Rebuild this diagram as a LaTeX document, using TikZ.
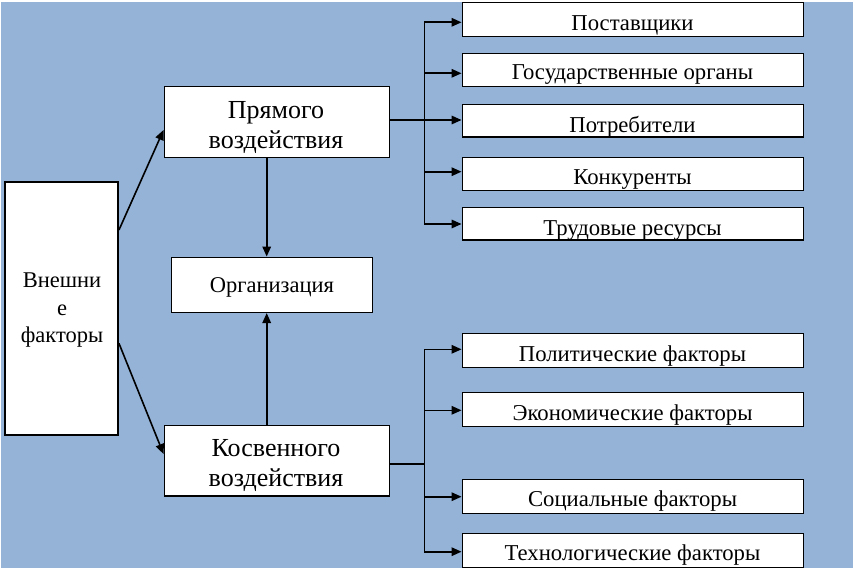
\documentclass[tikz,border=0pt]{standalone}
\usepackage{fontspec}
\setmainfont{Liberation Serif}
\usetikzlibrary{arrows.meta}
\definecolor{bgblue}{HTML}{95B3D7}
\begin{document}
\begin{tikzpicture}[x=1pt,y=-1pt,
  box/.style={draw=black,line width=1.5pt,fill=white,inner sep=0pt,rectangle},
  sm/.style={font=\fontsize{22.7}{26}\selectfont,inner sep=0pt,anchor=base},
  bg/.style={font=\fontsize{26}{30}\selectfont,inner sep=0pt,anchor=base},
  md/.style={font=\fontsize{22.5}{27}\selectfont,inner sep=0pt,anchor=base},
  arr/.style={line width=1.6pt,-{Triangle[length=10pt,width=8.5pt]}},
  ln/.style={line width=1.6pt}]
\useasboundingbox (0,0) rectangle (858,575);
\fill[bgblue] (1,2) rectangle (853,568);

% main boxes
\node[box,minimum width=113pt,minimum height=253pt] (ext) at (61.7,308.6) {};
\node[box,minimum width=225pt,minimum height=71pt] (pr) at (276.8,121.8) {};
\node[box,minimum width=201pt,minimum height=55pt] (org) at (271.8,284.8) {};
\node[box,minimum width=225pt,minimum height=70.7pt] (ks) at (276.8,460.7) {};

% right boxes
\node[box,minimum width=341pt,minimum height=33.6pt] (r1) at (632.8,19.5) {};
\node[box,minimum width=341pt,minimum height=33pt] (r2) at (632.8,69.8) {};
\node[box,minimum width=341pt,minimum height=32.7pt] (r3) at (632.8,120.7) {};
\node[box,minimum width=341pt,minimum height=33pt] (r4) at (632.8,173.8) {};
\node[box,minimum width=341pt,minimum height=32.7pt] (r5) at (632.8,223.7) {};
\node[box,minimum width=341pt,minimum height=34pt] (b1) at (632.8,350.3) {};
\node[box,minimum width=341pt,minimum height=33.6pt] (b2) at (632.8,409.5) {};
\node[box,minimum width=341pt,minimum height=34pt] (b3) at (632.8,496.3) {};
\node[box,minimum width=341pt,minimum height=34pt] (b4) at (632.8,550.3) {};

% texts
\node[md] (ext1) at (62,287.7) {Внешни};
\node[md] (ext2) at (62,315.3) {е};
\node[md] (ext3) at (62,342.7) {факторы};
\node[bg] (pr1) at (276,118.3) {Прямого};
\node[bg] (pr2) at (276,148.3) {воздействия};
\node[md] (orgt) at (272,292.5) {Организация};
\node[bg] (ks1) at (276,456) {Косвенного};
\node[bg] (ks2) at (276,486.7) {воздействия};
\node[sm] (r1t) at (632.5,30.7) {Поставщики};
\node[sm] (r2t) at (632.5,80) {Государственные органы};
\node[sm] (r3t) at (632.5,132.3) {Потребители};
\node[sm] (r4t) at (632.5,184) {Конкуренты};
\node[sm] (r5t) at (632.5,235) {Трудовые ресурсы};
\node[sm] (b1t) at (632.5,361) {Политические факторы};
\node[sm] (b2t) at (632.5,420) {Экономические факторы};
\node[sm] (b3t) at (632.5,506.7) {Социальные факторы};
\node[sm] (b4t) at (632.5,560) {Технологические факторы};

% coordinates
\coordinate (e1) at (118.3,230);
\coordinate (e2) at (118.3,343.3);
\coordinate (p1) at (164.3,130);
\coordinate (k1) at (164.3,454);
\coordinate (ox) at (266.7,0);
\coordinate (t1) at (424.3,22.3);
\coordinate (t2) at (424.3,73.3);
\coordinate (t3) at (424.3,120);
\coordinate (t4) at (424.3,171.7);
\coordinate (t5) at (424.3,224);
\coordinate (u1) at (424.3,349.3);
\coordinate (u2) at (424.3,410.3);
\coordinate (u3) at (424.3,464);
\coordinate (u4) at (424.3,496.7);
\coordinate (u5) at (424.3,551.7);

% connectors
\draw[arr] (ext.east |- e1) -- (pr.west |- p1);
\draw[arr] (ext.east |- e2) -- (ks.west |- k1);
\draw[arr] (pr.south -| ox) -- (org.north -| ox);
\draw[arr] (ks.north -| ox) -- (org.south -| ox);

\draw[ln] (pr.east |- t3) -- (t3);
\draw[ln] (t1) -- (t5);
\draw[arr] (t1) -- (r1.west |- t1);
\draw[arr] (t2) -- (r2.west |- t2);
\draw[arr] (t3) -- (r3.west |- t3);
\draw[arr] (t4) -- (r4.west |- t4);
\draw[arr] (t5) -- (r5.west |- t5);

\draw[ln] (ks.east |- u3) -- (u3);
\draw[ln] (u1) -- (u5);
\draw[arr] (u1) -- (b1.west |- u1);
\draw[arr] (u2) -- (b2.west |- u2);
\draw[arr] (u4) -- (b3.west |- u4);
\draw[arr] (u5) -- (b4.west |- u5);
\end{tikzpicture}
\end{document}
